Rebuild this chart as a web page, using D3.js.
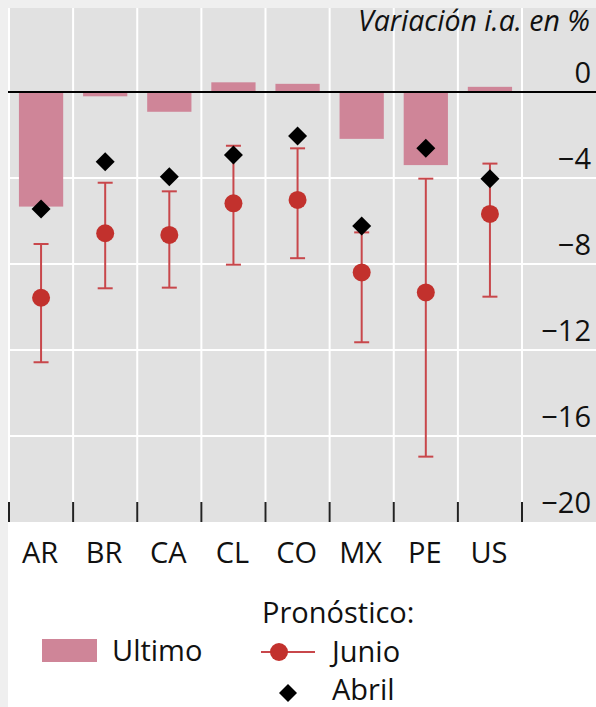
<!DOCTYPE html>
<html>
<head>
<meta charset="utf-8">
<script src="https://cdn.jsdelivr.net/npm/d3@7"></script>
<style>
  html, body { margin: 0; padding: 0; background: #fff; }
  svg { display: block; font-family: "Open Sans", "Noto Sans", sans-serif; }
</style>
</head>
<body>
<svg id="chart" width="596" height="707"></svg>
<script>
// ---- data ----
const categories = ["AR", "BR", "CA", "CL", "CO", "MX", "PE", "US"];
const ultimo      = [-5.33, -0.2, -0.92, 0.45, 0.38, -2.18, -3.4, 0.24];
const junio       = [-9.57, -6.57, -6.65, -5.18, -5.02, -8.39, -9.32, -5.67];
const junioHigh   = [-7.07, -4.22, -4.62, -2.5, -2.62, -6.53, -4.03, -3.33];
const junioLow    = [-12.57, -9.13, -9.1, -8.03, -7.73, -11.64, -16.96, -9.52];
const abril       = [-5.44, -3.24, -3.94, -2.93, -2.05, -6.23, -2.62, -4.03];
const yTicks      = [0, -4, -8, -12, -16, -20];
const yTickLabels = ["0", "\u22124", "\u22128", "\u221212", "\u221216", "\u221220"];
const unitLabel   = "Variación i.a. en %";
const legendTitle = "Pronóstico:";
const legendNames = ["Ultimo", "Junio", "Abril"];

// ---- layout ----
const W = 596, H = 707;
const panel = { x0: 8, y0: 8, x1: 596, y1: 522 };
const svg = d3.select("#chart");

const x = d3.scaleBand().domain(categories).range([9, 522]).padding(0);
const y = d3.scaleLinear().domain([-20, 0]).range([522, 92]);
const bw = x.bandwidth();
const cx = c => x(c) + bw / 2;

const barColor = "#cf8598";
const red = "#c2312d";
const errColor = "#c8474b";

// frame
svg.append("rect").attr("x", 0).attr("y", 0).attr("width", W).attr("height", H).attr("fill", "#fff");
svg.append("rect").attr("x", 0).attr("y", 0).attr("width", W).attr("height", panel.y0).attr("fill", "#efefef");
svg.append("rect").attr("x", 0).attr("y", 0).attr("width", panel.x0).attr("height", H).attr("fill", "#efefef");
svg.append("rect").attr("x", panel.x0).attr("y", panel.y0)
  .attr("width", panel.x1 - panel.x0).attr("height", panel.y1 - panel.y0).attr("fill", "#e1e1e1");

// gridlines
svg.append("g").selectAll("line").data(yTicks.filter(t => t !== 0 && t !== -20)).join("line")
  .attr("x1", panel.x0).attr("x2", panel.x1)
  .attr("y1", d => y(d)).attr("y2", d => y(d))
  .attr("stroke", "#fff").attr("stroke-width", 2);

const bounds = categories.map(c => x(c)).concat([x(categories[categories.length - 1]) + bw]);
svg.append("g").selectAll("line").data(bounds).join("line")
  .attr("x1", d => d).attr("x2", d => d)
  .attr("y1", panel.y0).attr("y2", panel.y1)
  .attr("stroke", "#fff").attr("stroke-width", 2);

// bars
svg.append("g").selectAll("rect").data(categories).join("rect")
  .attr("x", c => cx(c) - bw * 0.345)
  .attr("width", bw * 0.69)
  .attr("y", (c, i) => y(Math.max(0, ultimo[i])))
  .attr("height", (c, i) => Math.abs(y(ultimo[i]) - y(0)))
  .attr("fill", barColor);

// zero line
svg.append("line").attr("x1", panel.x0).attr("x2", panel.x1)
  .attr("y1", y(0)).attr("y2", y(0)).attr("stroke", "#000").attr("stroke-width", 2);

// x ticks
svg.append("g").selectAll("line").data(bounds).join("line")
  .attr("x1", d => d).attr("x2", d => d)
  .attr("y1", panel.y1 - 20).attr("y2", panel.y1)
  .attr("stroke", "#222").attr("stroke-width", 2);

// error bars
const eb = svg.append("g").attr("stroke", errColor).attr("stroke-width", 2);
categories.forEach((c, i) => {
  const px = cx(c);
  eb.append("line").attr("x1", px).attr("x2", px).attr("y1", y(junioHigh[i])).attr("y2", y(junioLow[i]));
  eb.append("line").attr("x1", px - 7.5).attr("x2", px + 7.5).attr("y1", y(junioHigh[i])).attr("y2", y(junioHigh[i]));
  eb.append("line").attr("x1", px - 7.5).attr("x2", px + 7.5).attr("y1", y(junioLow[i])).attr("y2", y(junioLow[i]));
});

// junio points
svg.append("g").selectAll("circle").data(categories).join("circle")
  .attr("cx", c => cx(c)).attr("cy", (c, i) => y(junio[i])).attr("r", 9)
  .attr("fill", red);

// abril diamonds
const diamond = (r) => `M0,${-r}L${r},0L0,${r}L${-r},0Z`;
svg.append("g").selectAll("path").data(categories).join("path")
  .attr("transform", (c, i) => `translate(${cx(c)},${y(abril[i])})`)
  .attr("d", diamond(9.5)).attr("fill", "#000");

// y tick labels
svg.append("g").selectAll("text").data(yTicks).join("text")
  .attr("x", 591).attr("y", d => y(d) - 9)
  .attr("text-anchor", "end").attr("font-size", 29).attr("fill", "#111")
  .text((d, i) => yTickLabels[i]);

// unit label
svg.append("text").attr("x", 590).attr("y", 31).attr("text-anchor", "end")
  .attr("font-size", 28.5).attr("font-style", "italic").attr("fill", "#111").text(unitLabel);

// category labels
svg.append("g").selectAll("text").data(categories).join("text")
  .attr("x", c => cx(c) - 1).attr("y", 563).attr("text-anchor", "middle")
  .attr("font-size", 29).attr("fill", "#111").text(c => c);

// legend
const lg = svg.append("g").attr("font-size", 29).attr("fill", "#111");
lg.append("rect").attr("x", 42).attr("y", 639).attr("width", 55).attr("height", 23).attr("fill", barColor);
lg.append("text").attr("x", 112).attr("y", 661).text(legendNames[0]);
lg.append("text").attr("x", 262).attr("y", 623).text(legendTitle);
lg.append("line").attr("x1", 261).attr("x2", 315).attr("y1", 652).attr("y2", 652)
  .attr("stroke", errColor).attr("stroke-width", 2);
lg.append("circle").attr("cx", 279).attr("cy", 652).attr("r", 9).attr("fill", red);
lg.append("text").attr("x", 332).attr("y", 662).text(legendNames[1]);
lg.append("path").attr("transform", "translate(288,693)").attr("d", diamond(9)).attr("fill", "#000");
lg.append("text").attr("x", 332).attr("y", 700).text(legendNames[2]);
</script>
</body>
</html>
